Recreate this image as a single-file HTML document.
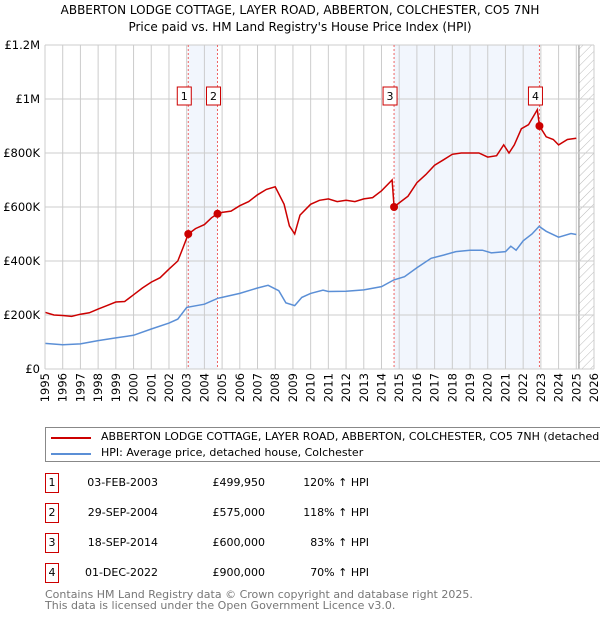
<!DOCTYPE html>
<html><head><meta charset="utf-8"><style>
body{margin:0;background:#fff;font-family:"DejaVu Sans","Liberation Sans",sans-serif;}
#wrap{position:relative;width:600px;height:620px;overflow:hidden;}
.t{position:absolute;font-size:11px;color:#000;white-space:nowrap;}
.num{position:absolute;width:12px;height:18px;border:1.5px solid #c00;font-size:11px;text-align:center;line-height:18px;}
</style></head><body><div id="wrap">
<div class="t" style="left:0;width:600px;text-align:center;top:3px;font-size:12px">ABBERTON LODGE COTTAGE, LAYER ROAD, ABBERTON, COLCHESTER, CO5 7NH</div>
<div class="t" style="left:0;width:600px;text-align:center;top:20px;font-size:12px">Price paid vs. HM Land Registry's House Price Index (HPI)</div>
<svg id="chart" width="600" height="420" style="position:absolute;left:0;top:0"></svg>
<div style="position:absolute;left:45px;top:427px;width:600px;height:33px;border:1px solid #888;">
<div style="position:absolute;left:5px;top:3px;width:40px;height:12px"><div style="position:absolute;top:6px;width:40px;height:2px;background:#c00"></div></div>
<div class="t" style="left:55px;top:2px;font-size:11px">ABBERTON LODGE COTTAGE, LAYER ROAD, ABBERTON, COLCHESTER, CO5 7NH (detached house)</div>
<div style="position:absolute;left:5px;top:19px;width:40px;height:12px"><div style="position:absolute;top:6px;width:40px;height:2px;background:#5b8fd6"></div></div>
<div class="t" style="left:55px;top:18px;font-size:11px">HPI: Average price, detached house, Colchester</div>
</div>
<div id="tbl"></div>
<div class="t" style="left:45px;top:589px;font-size:11px;color:#777;line-height:11px">Contains HM Land Registry data © Crown copyright and database right 2025.<br>This data is licensed under the Open Government Licence v3.0.</div>
</div>
<script>
const redYears=[1995,1995.5,1996,1996.5,1997,1997.5,1998,1998.5,1999,1999.5,2000,2000.5,2001,2001.5,2002,2002.5,2002.8,2003.09,2003.5,2004,2004.4,2004.74,2005,2005.5,2006,2006.5,2007,2007.5,2008,2008.5,2008.8,2009.1,2009.4,2010,2010.5,2011,2011.5,2012,2012.5,2013,2013.5,2014,2014.6,2014.71,2015,2015.5,2016,2016.5,2017,2017.5,2018,2018.5,2019,2019.5,2020,2020.5,2020.9,2021.2,2021.5,2021.9,2022.3,2022.8,2022.92,2023.3,2023.7,2024,2024.5,2025];
const redValues=[210,200,198,195,203,208,222,235,248,250,275,300,322,338,370,400,450,500,520,535,560,575,580,585,605,620,645,665,675,610,530,500,570,610,625,630,620,625,620,630,635,660,700,600,615,640,690,720,755,775,795,800,800,800,785,790,830,800,830,890,905,960,900,860,850,830,850,855];
const hpiYears=[1995,1996,1997,1998,1999,2000,2001,2002,2002.5,2003,2004,2004.75,2005,2006,2007,2007.6,2008.2,2008.6,2009.1,2009.5,2010,2010.7,2011,2012,2013,2014,2014.7,2015.3,2016,2016.8,2017.5,2018.2,2019,2019.7,2020.2,2021,2021.3,2021.6,2022,2022.5,2022.9,2023.3,2024,2024.7,2025];
const hpiValues=[95,90,93,105,115,125,148,170,185,228,240,262,265,280,300,310,290,245,235,265,280,292,287,288,293,305,330,342,375,410,422,435,440,440,430,435,455,440,475,500,528,510,488,502,498];
const saleYears=[2003.09,2004.74,2014.71,2022.92];
const saleValues=[499.95,575,600,900];
const saleLabels=["1","2","3","4"];
const saleDates=["03-FEB-2003","29-SEP-2004","18-SEP-2014","01-DEC-2022"];
const salePrices=["£499,950","£575,000","£600,000","£900,000"];
const saleHpi=["120% ↑ HPI","118% ↑ HPI","83% ↑ HPI","70% ↑ HPI"];
const yTicks=[0,200,400,600,800,1000,1200];
const yTickLabels=["£0","£200K","£400K","£600K","£800K","£1M","£1.2M"];
const xTicks=[1995,1996,1997,1998,1999,2000,2001,2002,2003,2004,2005,2006,2007,2008,2009,2010,2011,2012,2013,2014,2015,2016,2017,2018,2019,2020,2021,2022,2023,2024,2025,2026];

const L=45,R=594,T=45,B=369,X0=1995,X1=2026,YMAX=1200;
const FF='DejaVu Sans, Liberation Sans, sans-serif';
const x=v=>L+(v-X0)*(R-L)/(X1-X0);
const y=v=>B-v*(B-T)/YMAX;
const svg=document.getElementById('chart');
const NS='http://www.w3.org/2000/svg';
function mk(tag,attrs,parent){const e=document.createElementNS(NS,tag);for(const k in attrs)e.setAttribute(k,attrs[k]);(parent||svg).appendChild(e);return e;}
const defs=mk('defs',{});
const pat=mk('pattern',{id:'hatch',width:6,height:6,patternUnits:'userSpaceOnUse',patternTransform:'rotate(45)'},defs);
mk('line',{x1:0,y1:0,x2:0,y2:6,stroke:'#bbb','stroke-width':1},pat);
[[saleYears[0],saleYears[1]],[saleYears[2],saleYears[3]]].forEach((s,i)=>{
 const r=mk('rect',{x:x(s[0]),y:T,width:x(s[1])-x(s[0]),height:B-T,fill:'#eef3fc',opacity:0.75});
 
 
});
const hz=mk('rect',{x:x(2025.15),y:T,width:R-x(2025.15),height:B-T,fill:'url(#hatch)'});


mk('line',{x1:x(2025.15),x2:x(2025.15),y1:T,y2:B,stroke:'#888','stroke-width':1});
xTicks.forEach(t=>{
 const g=mk('line',{x1:x(t),x2:x(t),y1:T,y2:B,stroke:'#ccc','stroke-width':1});
 
 
 const tx=mk('text',{x:0,y:0,transform:`translate(${x(t)+4},${B+4}) rotate(-90)`,'text-anchor':'end','font-size':11.5,'font-family':FF});
 tx.textContent=t;
 
 
});
yTicks.forEach((t,i)=>{
 const g=mk('line',{x1:L,x2:R,y1:y(t),y2:y(t),stroke:'#ccc','stroke-width':1});
 
 
 const tx=mk('text',{x:L-5,y:y(t)+4,'text-anchor':'end','font-size':11.5,'font-family':FF});
 tx.textContent=yTickLabels[i];
 
 
});
saleYears.forEach((s,i)=>{
 const l=mk('line',{x1:x(s),x2:x(s),y1:T,y2:B,stroke:'#e66','stroke-width':1,'stroke-dasharray':'2,2'});
 
 
});
function path(xs,vs,col,name){
 const p=mk('path',{d:xs.map((v,i)=>(i?'L':'M')+x(v).toFixed(1)+','+y(vs[i]).toFixed(1)).join(''),fill:'none',stroke:col,'stroke-width':1.5});
 
 
}
path(hpiYears,hpiValues,'#5b8fd6','hpi-line');
path(redYears,redValues,'#cc0000','property-price-line');
saleYears.forEach((s,i)=>{
 const c=mk('circle',{cx:x(s),cy:y(saleValues[i]),r:4,fill:'#cc0000'});
 
 
 const bx=x(s)-4;
 const r=mk('rect',{x:bx-7,y:87,width:14,height:18,fill:'#fff',stroke:'#c00','stroke-width':1});
 
 
 const t=mk('text',{x:bx,y:100,'text-anchor':'middle','font-size':11,'font-family':FF});
 t.textContent=saleLabels[i];
 
 
});
mk('line',{x1:L,x2:R,y1:B,y2:B,stroke:'#ccc'});
mk('line',{x1:L,x2:L,y1:T,y2:B,stroke:'#ccc'});
const tbl=document.getElementById('tbl');
saleLabels.forEach((s,i)=>{
 const top=473+i*30;
 const row=document.createElement('div');
 
 
 row.innerHTML=`<div class="num" style="left:45px;top:${top}px">${s}</div>
 <div class="t" style="left:70px;width:88px;text-align:right;top:${top+3}px">${saleDates[i]}</div>
 <div class="t" style="left:180px;width:85px;text-align:right;top:${top+3}px">${salePrices[i]}</div>
 <div class="t" style="left:280px;width:89px;text-align:right;top:${top+3}px">${saleHpi[i]}</div>`;
 tbl.appendChild(row);
});
</script></body></html>
